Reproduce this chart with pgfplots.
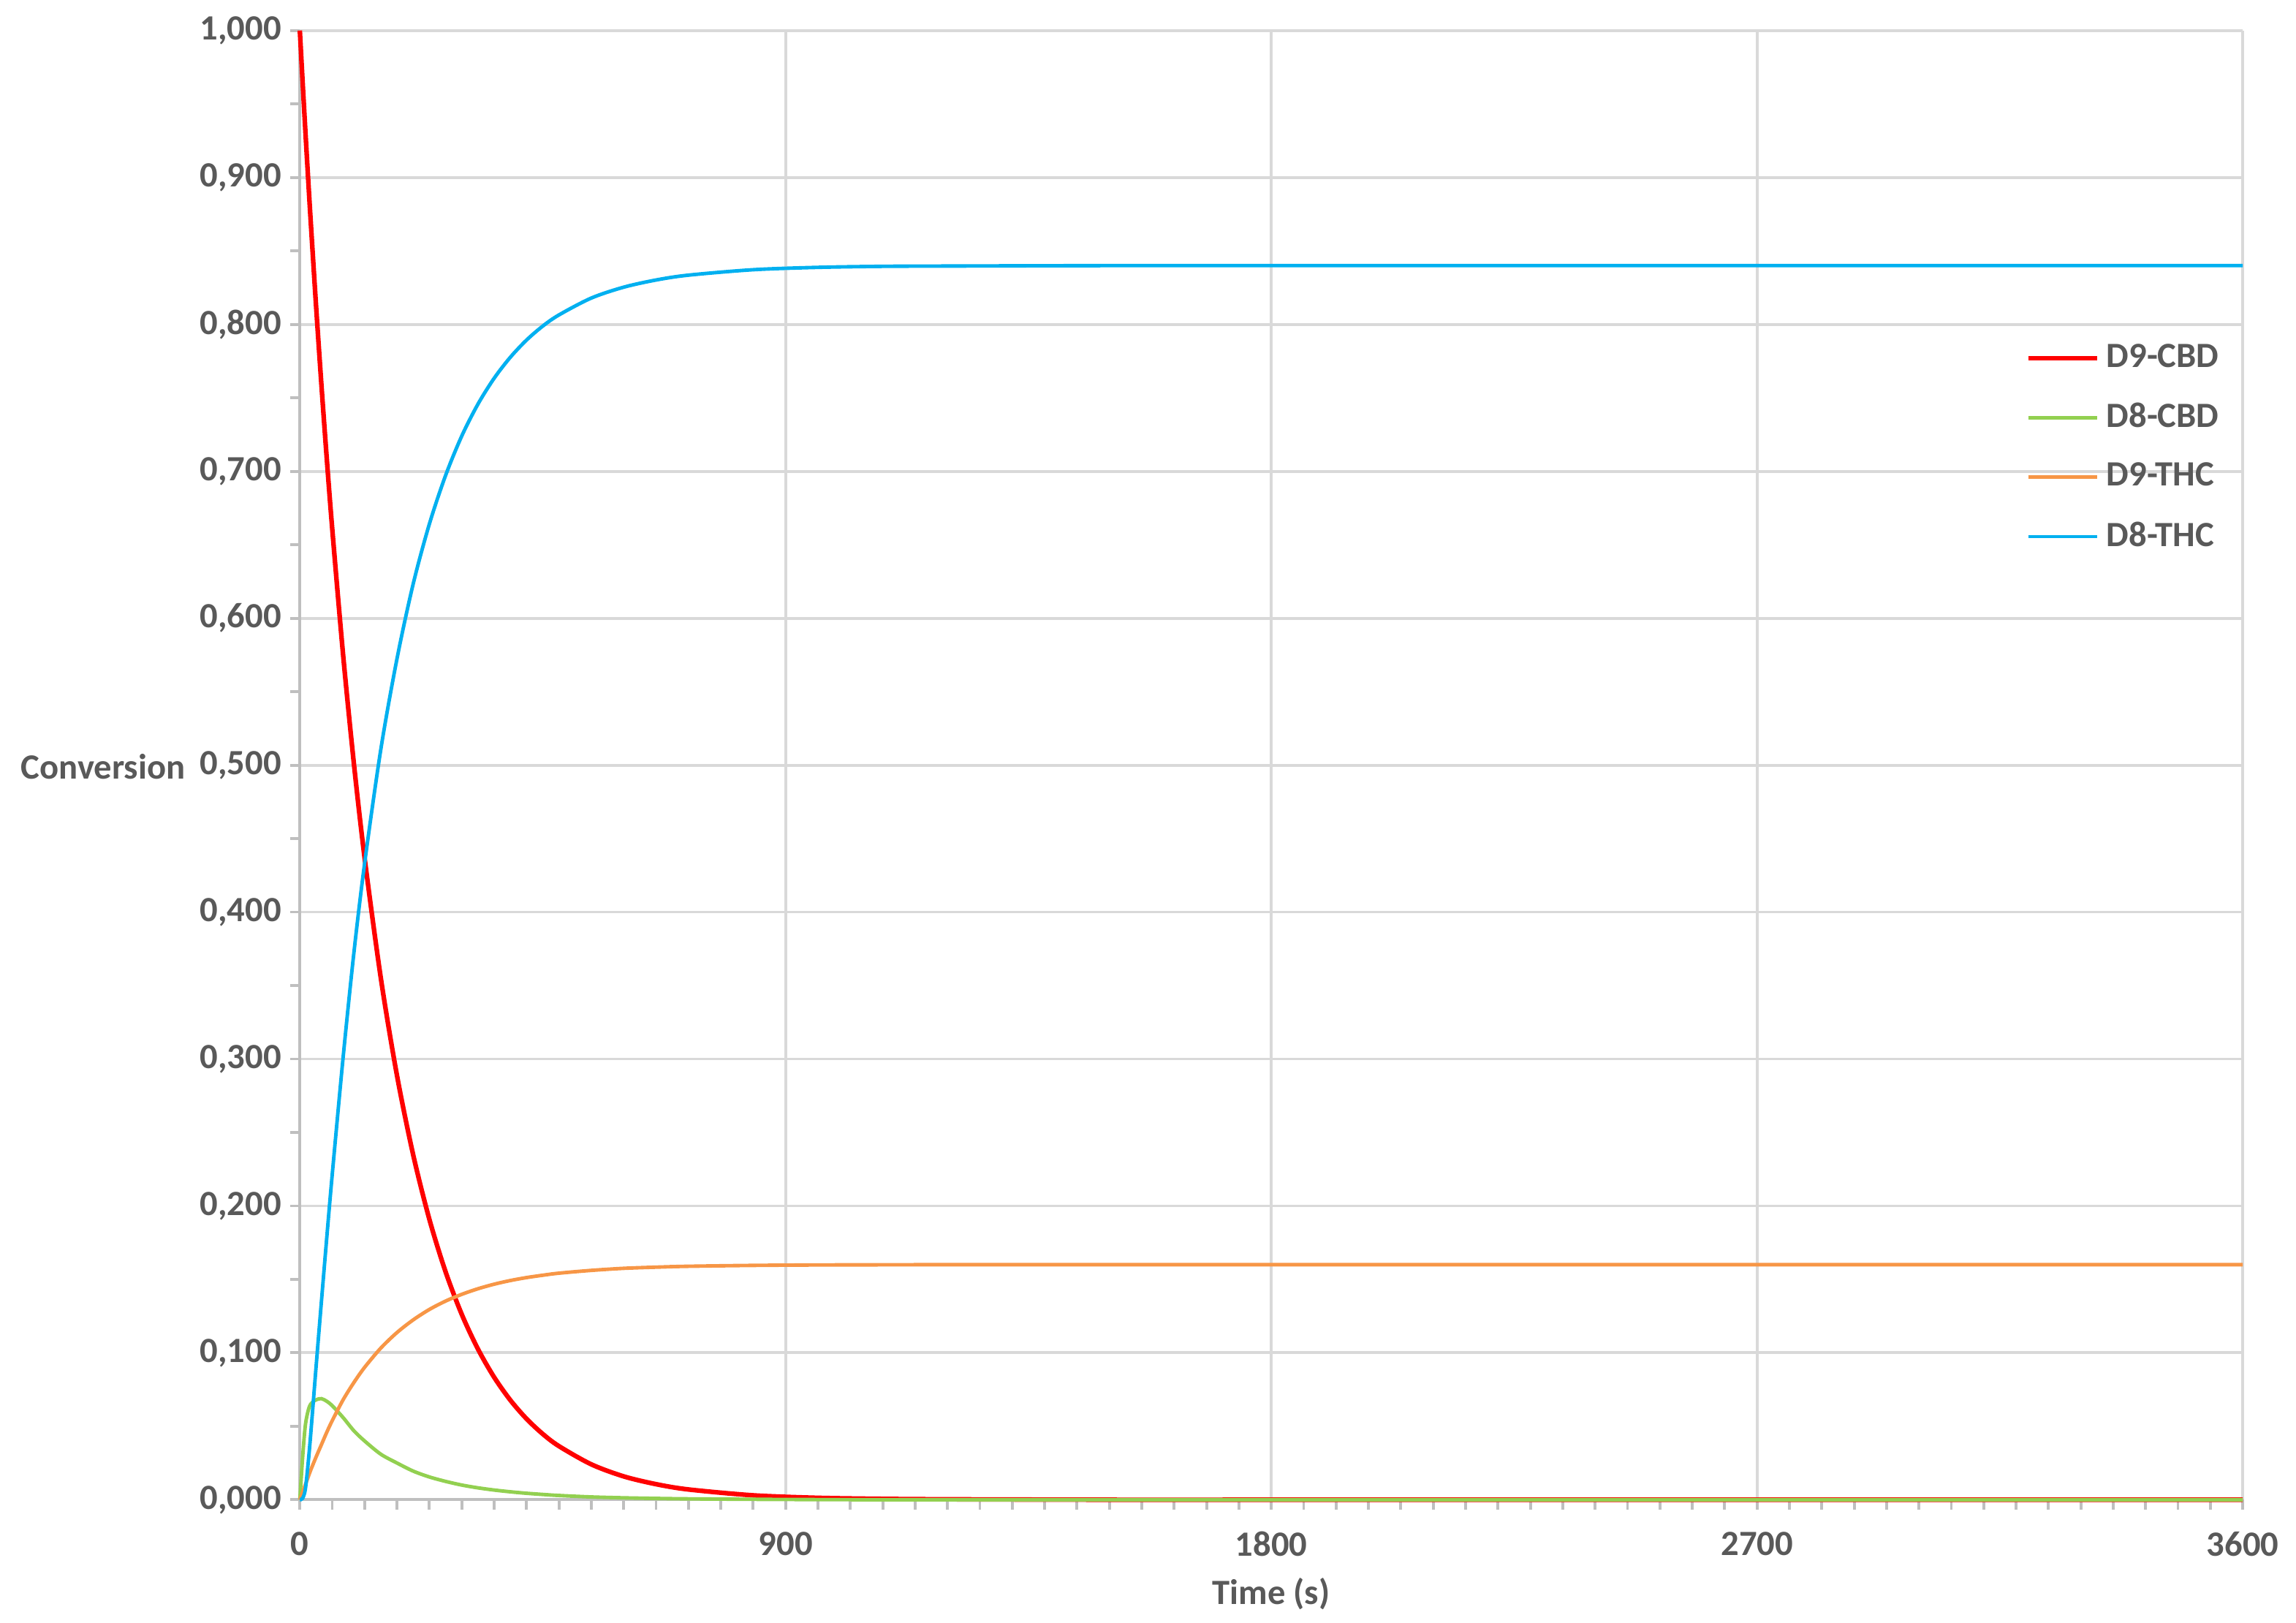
\documentclass[border=0pt]{standalone}
\usepackage{fontspec}
\setmainfont{Carlito}
\usepackage{pgfplots}
\usepackage{pgfplotstable}
\pgfplotsset{compat=1.18}

\definecolor{cred}{HTML}{FF0000}
\definecolor{cgreen}{HTML}{92D050}
\definecolor{corange}{HTML}{F79646}
\definecolor{cblue}{HTML}{00B0F0}
\definecolor{ctext}{HTML}{595959}
\definecolor{cgrid}{HTML}{D9D9D9}
\definecolor{caxis}{HTML}{BFBFBF}

% time (s), D9-CBD, D8-CBD, D9-THC, D8-THC
\pgfplotstableread{
t    d9cbd  d8cbd  d9thc  d8thc
0    1.0000 0.0000 0.0000 0.0000
5    0.9661 0.0280 0.0050 0.0009
10   0.9333 0.0500 0.0100 0.0067
15   0.9017 0.0600 0.0150 0.0233
20   0.8711 0.0650 0.0200 0.0439
30   0.8130 0.0680 0.0290 0.0900
40   0.7588 0.0688 0.0375 0.1349
50   0.7082 0.0670 0.0460 0.1788
60   0.6610 0.0640 0.0538 0.2212
80   0.5758 0.0560 0.0679 0.3003
100  0.5016 0.0470 0.0797 0.3717
120  0.4369 0.0400 0.0901 0.4330
150  0.3552 0.0310 0.1032 0.5106
180  0.2888 0.0250 0.1138 0.5724
210  0.2348 0.0195 0.1224 0.6233
240  0.1909 0.0155 0.1295 0.6641
270  0.1552 0.0125 0.1352 0.6971
300  0.1262 0.0100 0.1398 0.7240
330  0.1026 0.0081 0.1436 0.7457
360  0.0834 0.0066 0.1467 0.7633
390  0.0678 0.0054 0.1492 0.7776
420  0.0551 0.0044 0.1512 0.7893
450  0.0448 0.0036 0.1528 0.7988
480  0.0365 0.0029 0.1542 0.8064
540  0.0241 0.0019 0.1561 0.8179
600  0.0159 0.0013 0.1575 0.8253
660  0.0106 0.0009 0.1583 0.8302
720  0.0070 0.0006 0.1589 0.8335
840  0.0030 0.0003 0.1595 0.8372
960  0.0013 0.0001 0.1598 0.8388
1080 0.0006 0.0000 0.1599 0.8395
1200 0.0003 0.0000 0.1600 0.8397
1500 0.0000 0.0000 0.1600 0.8400
1800 0.0000 0.0000 0.1600 0.8400
2400 0.0000 0.0000 0.1600 0.8400
3000 0.0000 0.0000 0.1600 0.8400
3600 0.0000 0.0000 0.1600 0.8400
}\conv

\begin{document}
\begin{tikzpicture}
\begin{axis}[
    name=ax,
    scale only axis,
    width=546.9pt, height=413.5pt,
    xmin=0, xmax=3600,
    ymin=0, ymax=1,
    xtick={0,900,1800,2700,3600},
    minor x tick num=14,
    ytick={0,0.1,0.2,0.3,0.4,0.5,0.6,0.7,0.8,0.9,1.0},
    minor y tick num=1,
    grid=major,
    major grid style={cgrid, line width=0.8pt},
    axis x line=bottom, axis y line=left,
    axis line style={caxis, line width=0.8pt, -},
    tick align=outside,
    major tick length=2.7pt, minor tick length=2.7pt,
    tick style={caxis, line width=0.8pt},
    every tick label/.append style={font=\bfseries, text=ctext},
    yticklabel style={/pgf/number format/fixed, /pgf/number format/fixed zerofill,
        /pgf/number format/precision=3, /pgf/number format/use comma,
        /pgf/number format/assume math mode=true, anchor=east, xshift=1pt},
    xticklabel style={/pgf/number format/1000 sep={},
        /pgf/number format/assume math mode=true, anchor=center, yshift=-9.8pt},
    xlabel={Time (s)},
    xlabel style={at={(rel axis cs:0.5,0)}, anchor=center, yshift=-26.5pt, font=\bfseries, text=ctext},
    ylabel={Conversion},
    ylabel style={rotate=-90, at={(rel axis cs:0,0.5)}, anchor=west, xshift=-82pt, yshift=-0.5pt, font=\bfseries, text=ctext},
    legend style={draw=none, fill=none, at={(rel axis cs:0.888,0.792)}, anchor=north west,
        font=\bfseries, text=ctext, inner sep=0pt, row sep=4.5pt},
    legend cell align=left,
    legend image code/.code={\draw[#1] (0pt,0pt) -- (19.4pt,0pt);},
    clip=false,
]
\addplot[cred, line width=1.3pt, smooth] table[x=t, y=d9cbd] {\conv};
\addplot[cgreen, line width=1.0pt, smooth] table[x=t, y=d8cbd] {\conv};
\addplot[corange, line width=1.0pt, smooth] table[x=t, y=d9thc] {\conv};
\addplot[cblue, line width=1.0pt, smooth] table[x=t, y=d8thc] {\conv};
\legend{D9-CBD, D8-CBD, D9-THC, D8-THC}
\end{axis}
\pgfresetboundingbox
\path[use as bounding box] ([xshift=-84.4pt,yshift=-34.6pt]ax.south west) rectangle ([xshift=15pt,yshift=8.6pt]ax.north east);
\end{tikzpicture}
\end{document}
